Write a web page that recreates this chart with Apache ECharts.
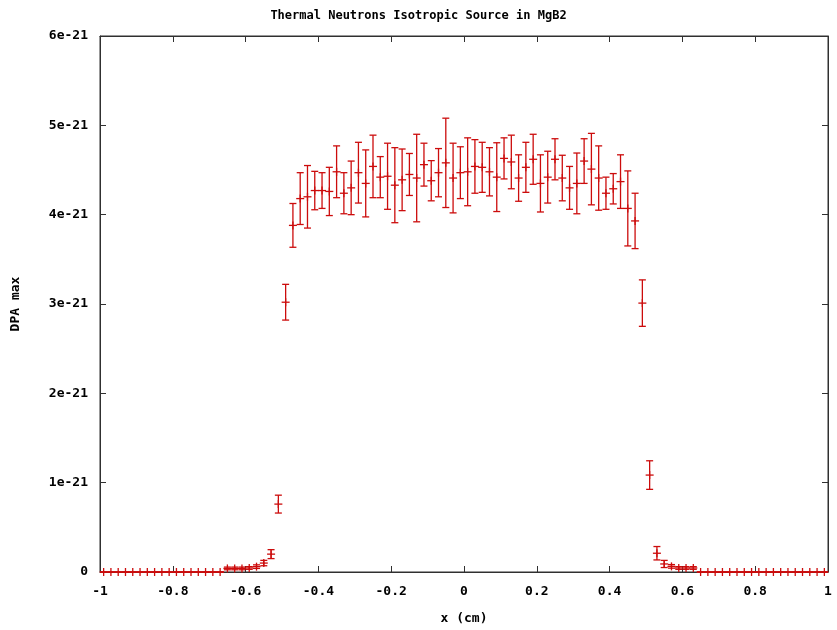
<!DOCTYPE html>
<html>
<head>
<meta charset="utf-8">
<script src="https://cdn.jsdelivr.net/npm/echarts@6/dist/echarts.min.js"></script>
<style>
html,body{margin:0;padding:0;background:#fff;}
#chart{width:837px;height:630px;}
</style>
</head>
<body>
<div id="chart"></div>
<script>
// Bin centres (cm)
const xCenters = [
-0.99,-0.97,-0.95,-0.93,-0.91,-0.89,-0.87,-0.85,-0.83,-0.81,
-0.79,-0.77,-0.75,-0.73,-0.71,-0.69,-0.67,-0.65,-0.63,-0.61,
-0.59,-0.57,-0.55,-0.53,-0.51,-0.49,-0.47,-0.45,-0.43,-0.41,
-0.39,-0.37,-0.35,-0.33,-0.31,-0.29,-0.27,-0.25,-0.23,-0.21,
-0.19,-0.17,-0.15,-0.13,-0.11,-0.09,-0.07,-0.05,-0.03,-0.01,
0.01,0.03,0.05,0.07,0.09,0.11,0.13,0.15,0.17,0.19,
0.21,0.23,0.25,0.27,0.29,0.31,0.33,0.35,0.37,0.39,
0.41,0.43,0.45,0.47,0.49,0.51,0.53,0.55,0.57,0.59,
0.61,0.63,0.65,0.67,0.69,0.71,0.73,0.75,0.77,0.79,
0.81,0.83,0.85,0.87,0.89,0.91,0.93,0.95,0.97,0.99
];
// DPA max, in units of 1e-21
const dpaE21 = [
0,0,0,0,0,0,0,0,0,0,
0,0,0,0,0,0,0,0.04,0.04,0.04,
0.045,0.06,0.10,0.20,0.76,3.02,3.88,4.18,4.20,4.27,
4.27,4.26,4.48,4.24,4.30,4.47,4.35,4.54,4.42,4.43,
4.33,4.39,4.45,4.41,4.56,4.38,4.47,4.58,4.41,4.47,
4.48,4.54,4.53,4.48,4.42,4.63,4.59,4.41,4.53,4.62,
4.35,4.42,4.62,4.41,4.30,4.35,4.60,4.51,4.41,4.24,
4.29,4.37,4.07,3.93,3.01,1.085,0.21,0.09,0.063,0.045,
0.045,0.045,0,0,0,0,0,0,0,0,
0,0,0,0,0,0,0,0,0,0
];
// error (half-height of error bar), units of 1e-21
const errE21 = [
0,0,0,0,0,0,0,0,0,0,
0,0,0,0,0,0,0,0.015,0.015,0.015,
0.015,0.02,0.03,0.05,0.10,0.20,0.245,0.29,0.35,0.215,
0.20,0.27,0.29,0.23,0.30,0.34,0.375,0.35,0.23,0.37,
0.42,0.345,0.235,0.49,0.24,0.225,0.27,0.50,0.39,0.29,
0.38,0.30,0.28,0.27,0.385,0.23,0.30,0.26,0.28,0.28,
0.32,0.29,0.23,0.255,0.24,0.34,0.25,0.40,0.36,0.18,
0.17,0.30,0.42,0.31,0.26,0.16,0.075,0.04,0.02,0.015,
0.015,0.015,0,0,0,0,0,0,0,0,
0,0,0,0,0,0,0,0,0,0
];
const xTicks = [-1,-0.8,-0.6,-0.4,-0.2,0,0.2,0.4,0.6,0.8,1];
const yTicks = ['0','1e-21','2e-21','3e-21','4e-21','5e-21','6e-21'];

const data = xCenters.map((x,i)=>[x, dpaE21[i], errE21[i]]);
const RED = '#cc0c0c';
const FONT = '"DejaVu Sans Mono", monospace';
const AX = '#303030';

const chart = echarts.init(document.getElementById('chart'), null, {renderer:'canvas'});

function renderErr(params, api){
  const x = api.value(0), y = api.value(1), e = api.value(2);
  const c = api.coord([x,y]);
  const top = api.coord([x,y+e]);
  const bot = api.coord([x,y-e]);
  const cap = 3.5, mk = 4;
  const st = {stroke: RED, lineWidth: 1.3};
  const kids = [
    {type:'line', shape:{x1:c[0],y1:top[1],x2:c[0],y2:bot[1]}, style:st},
    {type:'line', shape:{x1:c[0]-cap,y1:top[1],x2:c[0]+cap,y2:top[1]}, style:st},
    {type:'line', shape:{x1:c[0]-cap,y1:bot[1],x2:c[0]+cap,y2:bot[1]}, style:st},
    {type:'line', shape:{x1:c[0]-mk,y1:c[1],x2:c[0]+mk,y2:c[1]}, style:st},
    {type:'line', shape:{x1:c[0],y1:c[1]-mk,x2:c[0],y2:c[1]+mk}, style:st}
  ];
  return {type:'group', children:kids};
}

function axisCommon(){
  return {
    axisLine:{show:true, onZero:false, lineStyle:{color:AX, width:1}},
    axisTick:{show:true, inside:true, length:6, lineStyle:{color:AX}},
    splitLine:{show:false}
  };
}
const lblFont = {fontFamily:FONT, fontSize:13, fontWeight:'bold', color:'#000'};

chart.setOption({
  animation:false,
  backgroundColor:'#fff',
  title:{
    text:'Thermal Neutrons Isotropic Source in MgB2',
    left:'center', top:5,
    textStyle:{fontFamily:FONT, fontSize:12, fontWeight:'bold', color:'#000'}
  },
  grid:{left:100, right:9, top:36, bottom:56, show:true, borderColor:AX, borderWidth:1},
  xAxis:[
    Object.assign({type:'value', min:-1, max:1, interval:0.2, position:'bottom',
      name:'x (cm)', nameLocation:'middle', nameGap:40,
      nameTextStyle:lblFont,
      axisLabel:Object.assign({margin:13,
        formatter:v=>{const t=xTicks.find(k=>Math.abs(k-v)<1e-9); return t===undefined?'':String(t);}}, lblFont)
    }, axisCommon()),
    Object.assign({type:'value', min:-1, max:1, interval:0.2, position:'top',
      axisLabel:{show:false}}, axisCommon())
  ],
  yAxis:[
    Object.assign({type:'value', min:0, max:6, interval:1, position:'left',
      name:'DPA max', nameLocation:'middle', nameGap:78, nameRotate:90,
      nameTextStyle:lblFont,
      axisLabel:Object.assign({margin:12, formatter:v=>yTicks[Math.round(v)]}, lblFont)
    }, axisCommon()),
    Object.assign({type:'value', min:0, max:6, interval:1, position:'right',
      axisLabel:{show:false}}, axisCommon())
  ],
  series:[{
    type:'custom',
    xAxisIndex:0, yAxisIndex:0,
    renderItem:renderErr,
    encode:{x:0, y:1},
    data:data,
    clip:false,
    z:5
  }]
});
</script>
</body>
</html>
